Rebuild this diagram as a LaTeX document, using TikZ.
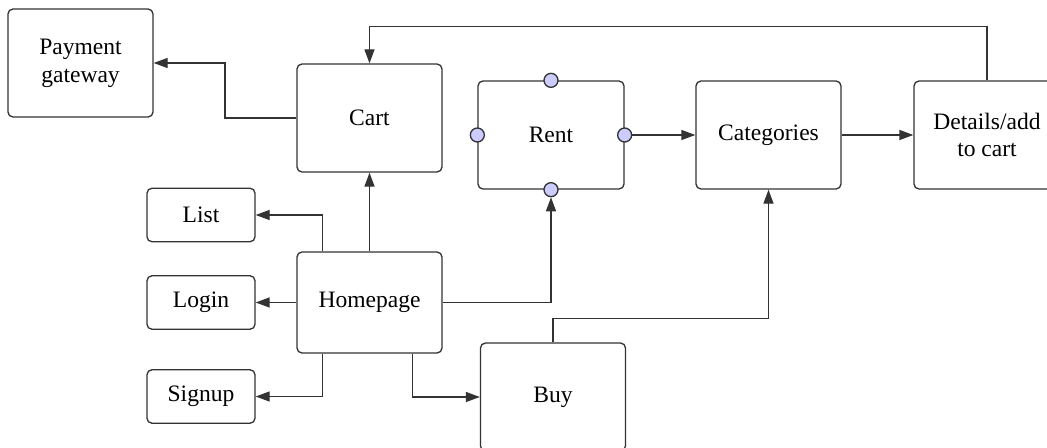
\documentclass[tikz,border=0pt]{standalone}
\usepackage{fontspec}
\setmainfont{Liberation Serif}
\usetikzlibrary{arrows.meta,calc}
\definecolor{linegray}{RGB}{51,51,51}
\definecolor{portblue}{RGB}{204,204,255}

\begin{document}
\begin{tikzpicture}[
 x=0.2mm,y=-0.2mm,
 font=\fontsize{13.4}{15.8}\selectfont,
 box/.style={draw=linegray,line width=0.75pt,rounded corners=1mm,align=center,minimum width=29mm,minimum height=21.6mm,inner sep=0pt},
 sbox/.style={box,minimum width=21.6mm,minimum height=10.7mm},
 port/.style={circle,draw=linegray,line width=0.75pt,fill=portblue,minimum size=2.8mm,inner sep=0pt},
 arr/.style={-{Triangle[length=2.8mm,width=2mm]},draw=linegray,line width=0.75pt}
]
\useasboundingbox (0,0) rectangle (1047,448);
\clip (0,0) rectangle (1047,448);

\node[box] (pay) at (80.5,63) {Payment\\gateway};
\node[box] (cart) at (369.5,118) {Cart};
\node[box,minimum width=29.2mm] (rent) at (551,135) {Rent};
\node[box] (cat) at (768.5,135) {Categories};
\node[box,minimum width=29.2mm] (det) at (987,135) {Details/add\\to cart};
\node[sbox] (list) at (201,215) {List};
\node[sbox] (login) at (201,302.5) {Login};
\node[sbox] (signup) at (201,396.5) {Signup};
\node[box,minimum height=20.2mm] (home) at (369.5,302.5) {Homepage};
\node[box] (buy) at (553,397) {Buy};

% connection points on the rent box
\node[port] (rentN) at (rent.north) {};
\node[port] (rentS) at (rent.south) {};
\node[port] (rentW) at (rent.west) {};
\node[port] (rentE) at (rent.east) {};

\draw[arr] (cart.west) -| ($(cart.west)!0.5!(pay.east)$) |- (pay.east);
\draw[arr] ([xshift=5.2mm]home.north west) |- (list.east);
\draw[arr] (home) -- (login);
\draw[arr] ([xshift=5.2mm]home.south west) |- (signup.east);
\draw[arr] (home) -- (cart);
\draw[arr] ([xshift=-6mm]home.south east) |- (buy.west);
\draw[arr] (home.east) -| (rentS);
\draw[arr] (buy.north) -- ++(0,4.8mm) -| (cat.south);
\draw[arr] (rentE) -- (cat);
\draw[arr] (cat) -- (det);
\draw[arr] (det.north) -- ++(0,10.8mm) -| (cart.north);
\end{tikzpicture}
\end{document}
